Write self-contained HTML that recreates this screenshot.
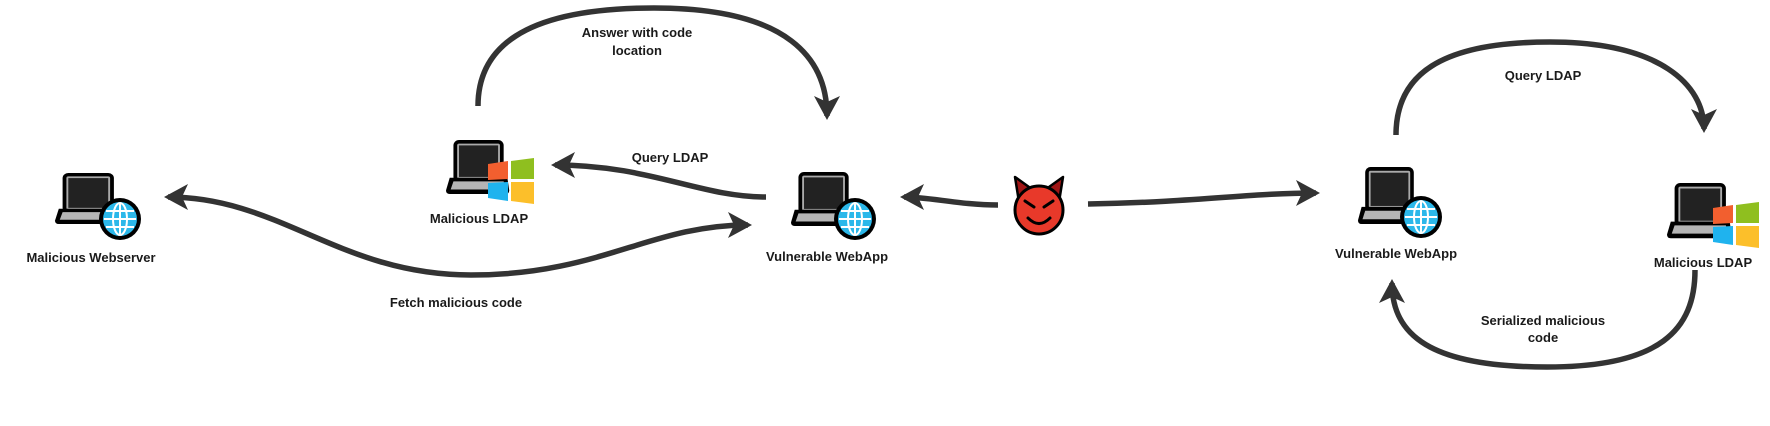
<!DOCTYPE html>
<html><head><meta charset="utf-8"><style>
html,body{margin:0;padding:0;background:#fff;width:1770px;height:426px;overflow:hidden}
svg{display:block}
text{font-family:"Liberation Sans",Arial,sans-serif;font-size:13px;font-weight:bold;fill:#1a1a1a;text-anchor:middle}
</style></head><body>
<svg width="1770" height="426" viewBox="0 0 1770 426" xmlns="http://www.w3.org/2000/svg">
<defs>
<marker id="ah" markerUnits="userSpaceOnUse" markerWidth="28" markerHeight="30" refX="20" refY="13" orient="auto-start-reverse">
<path d="M0,0 L24,13 L0,26 L6,13 Z" fill="#333"/>
</marker>
<g id="laptop">
<rect x="8" y="0" width="54" height="47" rx="6" fill="#000"/>
<rect x="12" y="4" width="46" height="39" rx="2" fill="#aaa"/>
<rect x="14" y="6" width="42" height="35" fill="#222"/>
<path d="M4,42 L66,42 L68,56 Q68,60 64,60 L4,60 Q0,60 0,56 Z" fill="#000"/>
<path d="M8,46 L62,46 L64,55 L5,55 Z" fill="#b5b5b5"/>
</g>
<g id="globe">
<circle r="21" fill="#000"/>
<circle r="17" fill="#2cb8ea"/>
<g fill="none" stroke="#fff" stroke-width="2">
<ellipse rx="7" ry="16"/>
<line x1="0" y1="-16" x2="0" y2="16"/>
<line x1="-16" y1="0" x2="16" y2="0"/>
<line x1="-14" y1="-8" x2="14" y2="-8"/>
<line x1="-14" y1="8" x2="14" y2="8"/>
</g>
</g>
<g id="win">
<path d="M0,6 L20,3 L20,21 L0,22 Z" fill="#f25f2f"/>
<path d="M23,3 L46,0 L46,21 L23,21 Z" fill="#8fbf1f"/>
<path d="M0,25 L20,24 L20,43 L0,40 Z" fill="#1fb3ee"/>
<path d="M23,24 L46,24 L46,46 L23,43 Z" fill="#fcbf2a"/>
</g>
</defs>

<g fill="none" stroke="#333" stroke-width="5.5" stroke-linecap="butt">
<path d="M478,106 C478,50 520,8 654,8 C790,8 827,60 827,116" marker-end="url(#ah)"/>
<path d="M766,197 C700,197 650,165 555,165" marker-end="url(#ah)"/>
<path d="M748,225 C650,225 600,275 471,275 C340,275 280,197 168,197" marker-start="url(#ah)" marker-end="url(#ah)"/>
<path d="M998,205 C960,205 930,197 904,197" marker-end="url(#ah)"/>
<path d="M1088,204 C1200,202 1250,193 1316,193" marker-end="url(#ah)"/>
<path d="M1396,135 C1396,75 1440,42 1550,42 C1660,42 1704,85 1704,129" marker-end="url(#ah)"/>
<path d="M1695,270 C1695,330 1660,367 1547,367 C1430,367 1392,335 1392,283" marker-end="url(#ah)"/>
</g>

<use href="#laptop" transform="translate(55,173) scale(0.95,0.85)"/>
<use href="#globe" transform="translate(120,219)"/>
<text x="91" y="262">Malicious Webserver</text>

<use href="#laptop" transform="translate(446,140) scale(0.93,0.9)"/>
<use href="#win" transform="translate(488,158)"/>
<text x="479" y="223">Malicious LDAP</text>

<use href="#laptop" transform="translate(791,172) scale(0.93,0.9)"/>
<use href="#globe" transform="translate(855,219)"/>
<text x="827" y="261">Vulnerable WebApp</text>

<use href="#laptop" transform="translate(1358,167) scale(0.9,0.95)"/>
<use href="#globe" transform="translate(1421,217)"/>
<text x="1396" y="258">Vulnerable WebApp</text>

<use href="#laptop" transform="translate(1667,183) scale(0.95,0.92)"/>
<use href="#win" transform="translate(1713,202)"/>
<text x="1703" y="267">Malicious LDAP</text>

<g transform="translate(1039,207)">
<path d="M-24,-30 L-10,-20 L-20,-5 Z" fill="#a01515" stroke="#000" stroke-width="2.5" stroke-linejoin="round"/>
<path d="M24,-30 L10,-20 L20,-5 Z" fill="#a01515" stroke="#000" stroke-width="2.5" stroke-linejoin="round"/>
<circle cx="0" cy="3" r="24" fill="#e8392a" stroke="#000" stroke-width="3"/>
<path d="M-14,-6 L-5,0 M14,-6 L5,0" stroke="#000" stroke-width="3" stroke-linecap="round"/>
<path d="M-11,11 Q0,22 11,11" fill="none" stroke="#000" stroke-width="3" stroke-linecap="round"/>
</g>

<text x="637" y="37">Answer with code</text>
<text x="637" y="55">location</text>
<text x="670" y="162">Query LDAP</text>
<text x="456" y="307">Fetch malicious code</text>
<text x="1543" y="80">Query LDAP</text>
<text x="1543" y="325">Serialized malicious</text>
<text x="1543" y="342">code</text>
</svg>
</body></html>
